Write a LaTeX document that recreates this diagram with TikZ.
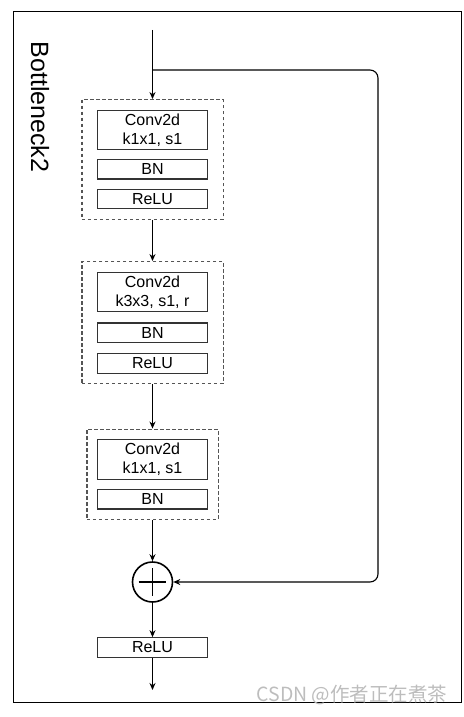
\documentclass[tikz,border=0pt]{standalone}
\usepackage{fontspec}
\setmainfont{Liberation Sans}
\newfontfamily\cjk{Noto Sans CJK SC}
\usetikzlibrary{arrows.meta,positioning,fit}
\definecolor{cline}{HTML}{333333}
\definecolor{cdash}{HTML}{555555}
\definecolor{cmark}{HTML}{BDBDBD}
\tikzset{
  box/.style={draw=cline, line width=1.2pt, minimum width=110pt, minimum height=19.5pt, inner sep=0pt, font=\fontsize{16}{19}\selectfont, align=center},
  convbox/.style={box, minimum height=39.5pt},
  stage/.style={draw=cdash, line width=1.2pt, dash pattern=on 3.5pt off 2.5pt, inner ysep=10pt},
  pre/.style={-{Stealth[length=7pt, width=6pt]}, line width=1.1pt},
  sumn/.style={circle, draw, line width=1.6pt, minimum size=40pt, inner sep=0pt},
  lbl/.style={font=\fontsize{25}{28}\selectfont},
  wmark/.style={font=\cjk\fontsize{19.5}{21}\selectfont, text=cmark},
}
\begin{document}
\begin{tikzpicture}[x=1pt,y=-1pt]
\useasboundingbox (0,0) rectangle (463,717);
\draw[line width=1pt] (13,12) rectangle (461,702);
\node[lbl, rotate=-90] (title) at (40,107) {Bottleneck2};
% stage 1
\node[convbox] (conv1) at (152.5,130) {Conv2d\\k1x1, s1};
\node[box, below=8.5pt of conv1] (bn1) {BN};
\node[box, below=9pt of bn1] (relu1) {ReLU};
\node[stage, inner xsep=15pt, fit=(conv1)(relu1)] (blk1) {};
% stage 2
\node[convbox] (conv2) at (152.5,292) {Conv2d\\k3x3, s1, r};
\node[box, below=10pt of conv2] (bn2) {BN};
\node[box, below=10pt of bn2] (relu2) {ReLU};
\node[stage, inner xsep=15pt, fit=(conv2)(relu2)] (blk2) {};
% stage 3
\node[convbox] (conv3) at (152.5,459.5) {Conv2d\\k1x1, s1};
\node[box, below=9pt of conv3] (bn3) {BN};
\node[stage, inner xsep=10pt, fit=(conv3)(bn3)] (blk3) {};
% add + output
\node[sumn] (sum) at (152.5,582) {};
\draw[line width=1.6pt] ([xshift=7pt]sum.west) -- ([xshift=-7pt]sum.east);
\draw[line width=1.6pt] ([yshift=-7pt]sum.north) -- ([yshift=7pt]sum.south);
\node[box] (relu4) at (152.5,647.5) {ReLU};
\coordinate (in) at (152.5,30);
\coordinate (split) at (152.5,70);
\coordinate (turn) at (378,582);
\coordinate (out) at (152.5,690);
\draw[pre] (in) -- (blk1);
\draw[pre] (blk1) -- (blk2);
\draw[pre] (blk2) -- (blk3);
\draw[pre] (blk3) -- (sum);
\draw[pre] (sum) -- (relu4);
\draw[pre] (relu4) -- (out);
\draw[pre, rounded corners=8pt] (split) -| (turn) -- (sum);
\node[wmark] (wm) at (352,695) {CSDN @作者正在煮茶};
\end{tikzpicture}
\end{document}
